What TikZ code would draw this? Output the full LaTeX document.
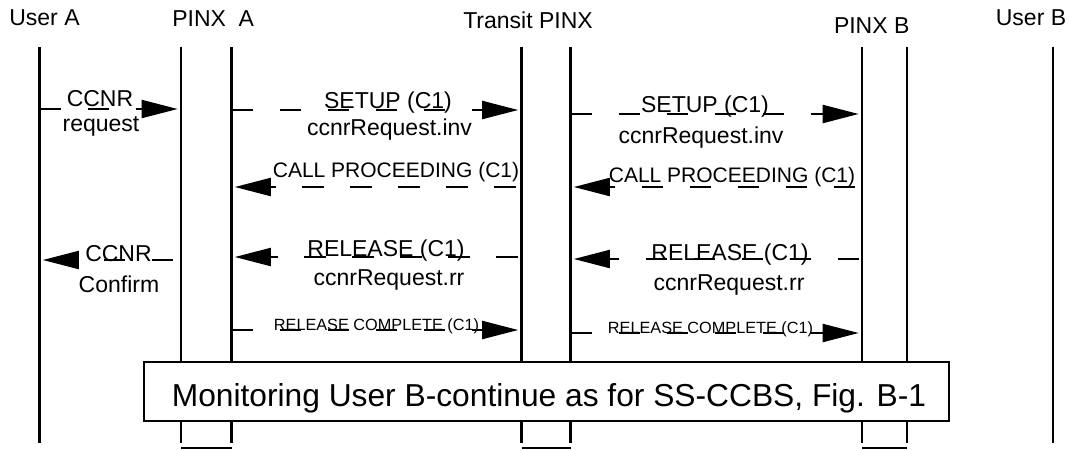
\documentclass[tikz,border=0pt]{standalone}
\usepackage{fontspec}
\setmainfont{Liberation Sans}
\usetikzlibrary{arrows.meta}
\begin{document}
\begin{tikzpicture}[x=0.75pt,y=-0.75pt,
  life/.style={line width=1.7pt},
  msg/.style={line width=1.6pt, dash pattern=on 16pt off 20pt,
    -{Triangle[length=27pt,width=13.5pt]}, shorten >=2.5pt},
  hdr/.style={font=\fontsize{17.25}{20}\selectfont, inner sep=0pt, anchor=base},
  lbl/.style={font=\fontsize{17.25}{20}\selectfont, inner sep=0pt, anchor=base},
  lblm/.style={font=\fontsize{15.75}{18}\selectfont, inner sep=0pt, anchor=base},
  lbls/.style={font=\fontsize{12.2}{14}\selectfont, inner sep=0pt, anchor=base},
  boxtxt/.style={font=\fontsize{23.8}{28}\selectfont, inner sep=0pt, anchor=base}]
\useasboundingbox (0,0) rectangle (1069,450);
% headers
\node[hdr] (hUA) at (44.5,25) {User A};
\node[hdr,anchor=base west] (hPA) at (172,26) {PINX\ \ A};
\node[hdr] (hT) at (528,28) {Transit PINX};
\node[hdr] (hPB) at (871.7,33) {PINX B};
\node[hdr] (hUB) at (1031,25) {User B};
% lifeline end points
\coordinate (uaT) at (39.5,47);  \coordinate (uaB) at (39.5,443);
\coordinate (pa1T) at (181,47);  \coordinate (pa1B) at (181,443);
\coordinate (pa2T) at (231.5,47); \coordinate (pa2B) at (231.5,443);
\coordinate (t1T) at (521.5,47); \coordinate (t1B) at (521.5,443);
\coordinate (t2T) at (570.5,47); \coordinate (t2B) at (570.5,443);
\coordinate (pb1T) at (862,47);  \coordinate (pb1B) at (862,443);
\coordinate (pb2T) at (907,47);  \coordinate (pb2B) at (907,443);
\coordinate (ubT) at (1053.3,47); \coordinate (ubB) at (1053.3,443);
\foreach \n in {ua,pa1,pa2,t1,t2,pb1,pb2,ub} \draw[life] (\n T) -- (\n B);
% bottom bars
\coordinate (bar) at (0,448);
\draw[life] (pa1B |- bar) -- (pa2B |- bar);
\draw[life] (t1B |- bar) -- (t2B |- bar);
\draw[life] (pb1B |- bar) -- (pb2B |- bar);
% message levels
\coordinate (r1) at (0,109);
\coordinate (r2) at (0,110);
\coordinate (r3) at (0,114);
\coordinate (r4) at (0,187);
\coordinate (r5) at (0,257);
\coordinate (r6) at (0,259);
\coordinate (r7) at (0,260);
\coordinate (r8) at (0,330);
\coordinate (r9) at (0,333);
% messages
\draw[msg] (uaT |- r1) -- (pa1T |- r1);
\node[lbl] (l1a) at (100,106) {CCNR};
\node[lbl] (l1b) at (101,131) {request};

\draw[msg] (pa2T |- r2) -- (t1T |- r2);
\node[lbl] (l2a) at (388,108) {SETUP (C1)};
\node[lbl] (l2b) at (389.5,135) {ccnrRequest.inv};

\draw[msg] (t2T |- r3) -- (pb1T |- r3);
\node[lbl] (l3a) at (705,112) {SETUP (C1)};
\node[lbl] (l3b) at (701,143) {ccnrRequest.inv};

\draw[msg,dash phase=31.5pt] (t1T |- r4) -- (pa2T |- r4);
\node[lblm] (l4) at (396,177) {CALL PROCEEDING (C1)};

\draw[msg,dash phase=31pt] (pb1T |- r4) -- (t2T |- r4);
\node[lblm] (l5) at (732,182) {CALL PROCEEDING (C1)};

\draw[msg,dash phase=33pt] (t1T |- r5) -- (pa2T |- r5);
\node[lbl] (l6a) at (386,256) {RELEASE (C1)};
\node[lbl] (l6b) at (389,285) {ccnrRequest.rr};

\draw[msg,dash phase=34pt] (pb1T |- r6) -- (t2T |- r6);
\node[lbl] (l7a) at (730,260) {RELEASE (C1)};
\node[lbl] (l7b) at (729,290) {ccnrRequest.rr};

\draw[msg,dash phase=30pt] (pa1T |- r7) -- (uaT |- r7);
\node[lbl] (l8a) at (118.5,261) {CCNR};
\node[lbl] (l8b) at (119,292) {Confirm};

\draw[msg] (pa2T |- r8) -- (t1T |- r8);
\node[lbls] (l9) at (376.5,330) {RELEASE COMPLETE (C1)};

\draw[msg] (t2T |- r9) -- (pb1T |- r9);
\node[lbls] (l10) at (710.5,333) {RELEASE COMPLETE (C1)};
% box
\draw[line width=1.5pt, fill=white] (144,362) rectangle (949,421);
\node[boxtxt] (mon) at (549,406.7) {Monitoring User B-continue as for SS-CCBS, Fig. B-1};
\end{tikzpicture}
\end{document}
